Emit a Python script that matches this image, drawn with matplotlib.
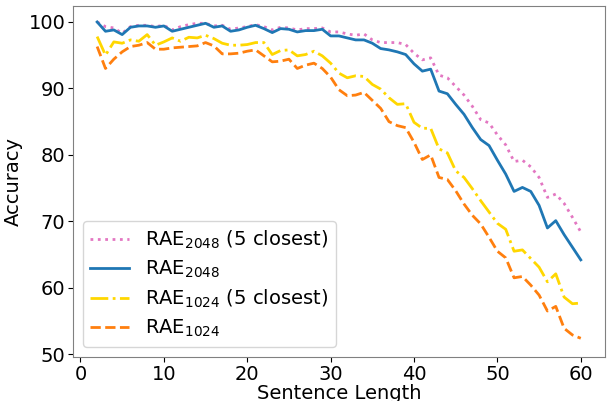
import numpy as np
import matplotlib.pyplot as plt

lengths = np.arange(2, 61)

rae2048_5 = [100.0, 99.3, 99.1, 98.3, 99.3, 99.5, 99.5, 99.3, 99.5, 98.8,
             99.3, 99.6, 99.8, 99.8, 99.4, 99.5, 98.9, 99.1, 99.3, 99.6,
             99.3, 98.8, 99.2, 99.1, 98.8, 99.0, 99.0, 99.1, 98.5, 98.5,
             98.2, 98.0, 98.2, 97.3, 96.9, 96.9, 96.9, 96.6, 95.3, 94.3,
             94.6, 92.0, 91.6, 90.3, 89.0, 87.3, 85.3, 84.8, 83.0, 81.5,
             79.0, 79.2, 78.2, 76.6, 73.6, 74.1, 72.7, 70.6, 68.4]
rae2048 = [100.0, 98.6, 98.8, 98.1, 99.2, 99.4, 99.4, 99.2, 99.4, 98.6,
           98.9, 99.2, 99.5, 99.8, 99.2, 99.4, 98.6, 98.8, 99.2, 99.5,
           99.0, 98.4, 99.0, 98.9, 98.5, 98.7, 98.7, 98.9, 97.9, 97.9,
           97.6, 97.3, 97.3, 96.8, 96.0, 95.8, 95.5, 95.1, 93.7, 92.6,
           92.9, 89.6, 89.2, 87.6, 86.1, 84.1, 82.3, 81.4, 79.2, 77.1,
           74.5, 75.1, 74.5, 72.4, 69.0, 70.1, 68.0, 66.1, 64.2]
rae1024_5 = [97.8, 95.0, 97.0, 96.8, 97.3, 97.1, 98.1, 96.5, 97.0, 97.6,
             97.1, 97.7, 97.6, 98.0, 97.5, 96.8, 96.5, 96.5, 96.6, 96.9,
             96.9, 95.1, 95.7, 95.8, 94.9, 95.1, 95.6, 94.9, 93.8, 92.3,
             91.6, 91.9, 91.8, 90.6, 89.9, 88.6, 87.6, 87.7, 84.9, 84.0,
             84.0, 80.9, 80.3, 77.6, 76.6, 74.9, 73.1, 71.4, 69.7, 68.8,
             65.5, 65.7, 64.4, 63.1, 60.9, 62.1, 58.6, 57.6, 57.7]
rae1024 = [96.3, 93.0, 94.4, 95.5, 96.3, 96.5, 96.9, 95.9, 95.9, 96.1,
           96.2, 96.3, 96.4, 96.9, 96.4, 95.2, 95.2, 95.3, 95.6, 95.8,
           94.9, 94.0, 94.1, 94.4, 93.0, 93.5, 93.8, 93.0, 91.7, 89.8,
           88.9, 89.0, 89.4, 88.2, 87.0, 85.0, 84.4, 84.1, 81.9, 79.3,
           80.0, 76.6, 76.3, 74.6, 72.6, 70.9, 69.6, 67.6, 65.5, 64.5,
           61.5, 61.7, 60.4, 58.9, 56.5, 57.2, 53.9, 52.9, 52.4]

fig = plt.figure(figsize=(6.08, 4.01), dpi=100)
ax = fig.add_axes([0.12, 0.11, 0.875, 0.875])

ax.plot(lengths, rae2048_5, ':', color='tab:pink', lw=2, label=r'RAE$_{2048}$ (5 closest)')
ax.plot(lengths, rae2048, '-', color='tab:blue', lw=2, label=r'RAE$_{2048}$')
ax.plot(lengths, rae1024_5, '-.', color='gold', lw=2, label=r'RAE$_{1024}$ (5 closest)')
ax.plot(lengths, rae1024, '--', color='tab:orange', lw=2, label=r'RAE$_{1024}$')

ax.set_ylim(49.6, 102.4)
ax.set_xlabel('Sentence Length', fontsize=14, labelpad=0)
ax.set_ylabel('Accuracy', fontsize=14)
ax.tick_params(labelsize=14, pad=2)
for s in ax.spines.values():
    s.set_color('#808080')
ax.legend(loc='lower left', fontsize=14, labelspacing=0.4)

fig.savefig('out.png')
